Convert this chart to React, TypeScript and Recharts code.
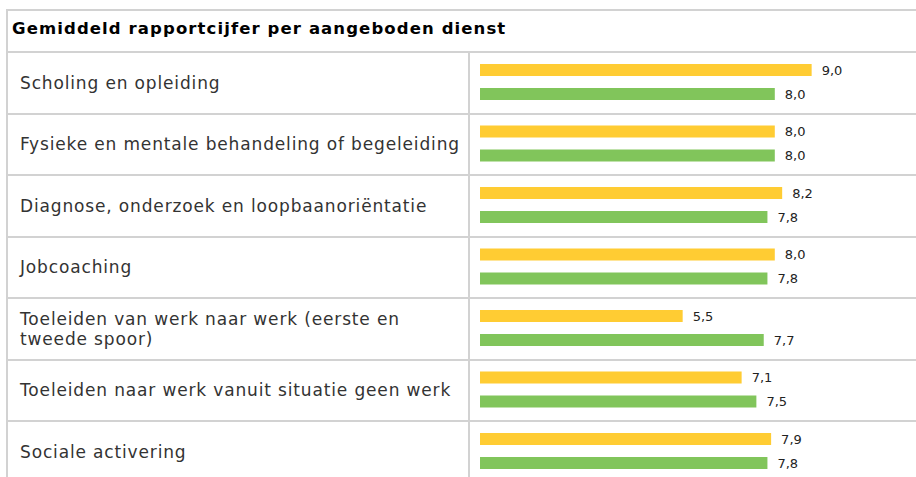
import { BarChart, Bar, XAxis, YAxis, LabelList } from 'recharts'

const categories = [
  'Scholing en opleiding',
  'Fysieke en mentale behandeling of begeleiding',
  'Diagnose, onderzoek en loopbaanoriëntatie',
  'Jobcoaching',
  'Toeleiden van werk naar werk (eerste en tweede spoor)',
  'Toeleiden naar werk vanuit situatie geen werk',
  'Sociale activering',
]
const cijferGeel = [9.0, 8.0, 8.2, 8.0, 5.5, 7.1, 7.9]
const cijferGroen = [8.0, 8.0, 7.8, 7.8, 7.7, 7.5, 7.8]
const title = 'Gemiddeld rapportcijfer per aangeboden dienst'

const data = categories.map((name, i) => ({ name, geel: cijferGeel[i], groen: cijferGroen[i] }))

const BORDER = '#d2d2d2'
const FONT = '"DejaVu Sans", Verdana, sans-serif'
const ROW_H = 61.5

function fmt(v: unknown) {
  return (v as number).toFixed(1).replace('.', ',')
}

export default function App() {
  return (
    <div style={{ position: 'absolute', left: 0, top: 0, width: 916, height: 477, overflow: 'hidden', fontFamily: FONT }}>
      <div
        style={{
          position: 'absolute',
          left: 6,
          top: 9,
          width: 930,
          borderTop: `2px solid ${BORDER}`,
          borderLeft: `2px solid ${BORDER}`,
          boxSizing: 'border-box',
        }}
      >
        <div
          style={{
            height: 42,
            boxSizing: 'border-box',
            borderBottom: `2px solid ${BORDER}`,
            padding: '8px 0 0 4px',
            fontWeight: 'bold',
            fontSize: 16.5,
            letterSpacing: 1.1,
            color: '#000',
          }}
        >
          {title}
        </div>
        {categories.map((c) => (
          <div key={c} style={{ display: 'flex', height: ROW_H, boxSizing: 'border-box', borderBottom: `2px solid ${BORDER}` }}>
            <div
              style={{
                width: 462,
                boxSizing: 'border-box',
                borderRight: `2px solid ${BORDER}`,
                padding: '0 8px 0 12px',
                display: 'flex',
                alignItems: 'center',
                fontSize: 17,
                letterSpacing: 0.85,
                lineHeight: '20px',
                color: '#333',
              }}
            >
              {c}
            </div>
          </div>
        ))}
      </div>
      <div style={{ position: 'absolute', left: 470, top: 51 }}>
        <BarChart
          width={446}
          height={ROW_H * categories.length}
          data={data}
          layout="vertical"
          margin={{ top: 0, right: 67.5, bottom: 0, left: 10 }}
          barGap={12}
          barSize={12}
        >
          <XAxis type="number" domain={[0, 10]} hide />
          <YAxis type="category" dataKey="name" hide />
          <Bar dataKey="geel" fill="#FFCC33" isAnimationActive={false}>
            <LabelList dataKey="geel" position="right" offset={10} formatter={fmt} style={{ fontSize: 13, fill: '#222', fontFamily: FONT }} />
          </Bar>
          <Bar dataKey="groen" fill="#81C55B" isAnimationActive={false}>
            <LabelList dataKey="groen" position="right" offset={10} formatter={fmt} style={{ fontSize: 13, fill: '#222', fontFamily: FONT }} />
          </Bar>
        </BarChart>
      </div>
    </div>
  )
}
